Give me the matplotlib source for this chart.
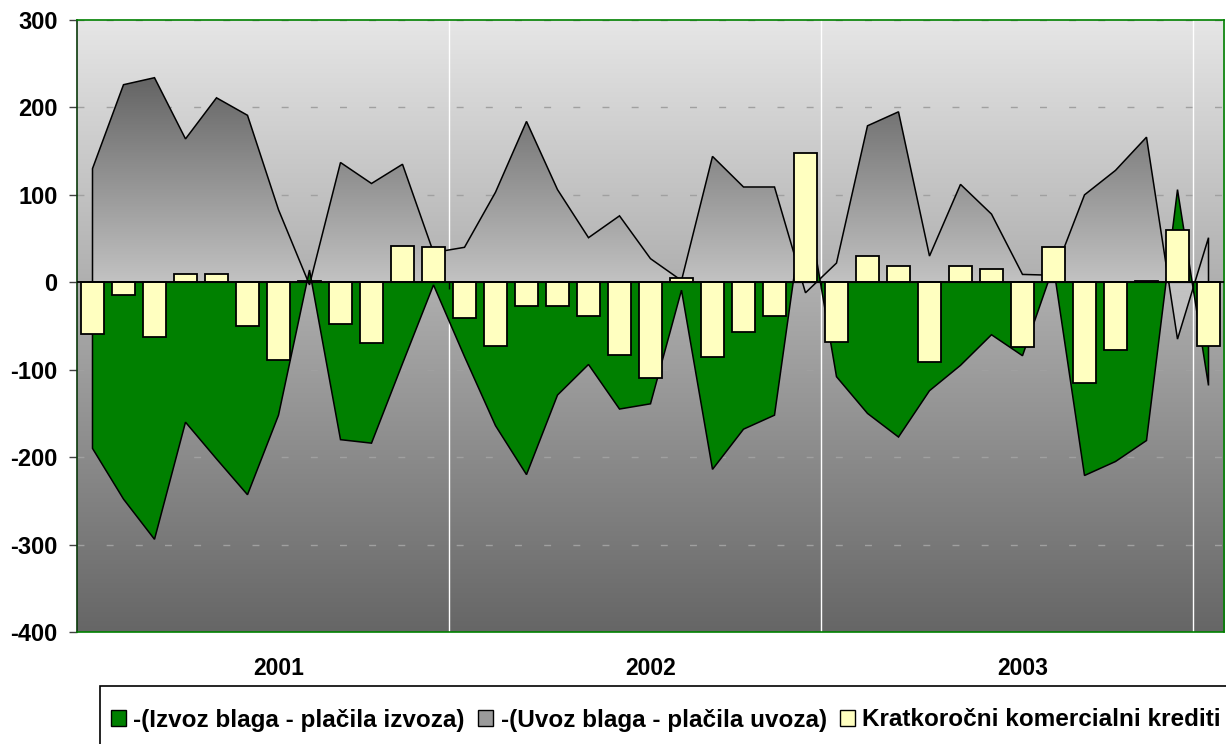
import numpy as np
import matplotlib
matplotlib.use('Agg')
import matplotlib.pyplot as plt
from matplotlib.colors import LinearSegmentedColormap
from matplotlib.patches import Polygon, Patch, Rectangle
from matplotlib.transforms import blended_transform_factory

# Data (monthly, Jan 2001 - Jan 2004)
izvoz = [-190, -248, -294, -160, -202, -243, -152, 14, -180, -184, -93, -3,
         -85, -164, -220, -129, -94, -145, -139, -9, -214, -168, -152, 100,
         -108, -150, -177, -124, -95, -60, -84, 18, -221, -205, -181, 106,
         -118]
uvoz = [130, 226, 234, 164, 211, 191, 83, -3, 137, 113, 135, 34,
        40, 103, 184, 106, 51, 76, 27, 2, 144, 109, 109, -12,
        22, 179, 195, 30, 112, 78, 9, 8, 100, 128, 166, -65,
        51]
krediti = [-59, -14, -63, 10, 10, -50, -89, 2, -48, -70, 42, 40,
           -41, -73, -27, -27, -38, -83, -110, 5, -85, -57, -39, 148,
           -68, 30, 19, -91, 19, 15, -74, 40, -115, -78, 1, 60,
           -73]
years = ['2001', '2002', '2003']
year_pos = [6, 18, 30]
year_bounds = [11.5, 23.5, 35.5]
labels = ['-(Izvoz blaga - plačila izvoza)', '-(Uvoz blaga - plačila uvoza)',
          'Kratkoročni komercialni krediti']

plt.rcParams['font.family'] = ['Liberation Sans', 'DejaVu Sans']
plt.rcParams['font.weight'] = 'bold'
plt.rcParams['axes.unicode_minus'] = False

x = np.arange(len(izvoz))
ymin, ymax = -400, 300

fig = plt.figure(figsize=(12.26, 7.44), dpi=100)
ax = fig.add_axes([77 / 1226, 112 / 744, 1147 / 1226, 612 / 744])
ax.set_xlim(-0.5, len(x) - 0.5)
ax.set_ylim(ymin, ymax)

# Background gradient
bg = LinearSegmentedColormap.from_list('bg', ['#666666', '#e6e6e6'])
ax.imshow(np.linspace(0, 1, 256).reshape(-1, 1), extent=(-0.5, len(x) - 0.5, ymin, ymax),
          origin='lower', aspect='auto', cmap=bg, zorder=0)

# Grid
ax.set_yticks(np.arange(-400, 301, 100))
ax.yaxis.grid(True, linestyle=(0, (5, 16)), color='#a0a0a0', linewidth=1)
ax.set_axisbelow(True)
for b in year_bounds:
    ax.axvline(b, color='white', linewidth=1, zorder=0.6)

# Uvoz area with gradient fill
uv_pts = [(x[0], 0)] + list(zip(x, uvoz)) + [(x[-1], 0)]
uv_poly = Polygon(uv_pts, closed=True, facecolor='none', edgecolor='none')
ax.add_patch(uv_poly)
gy = np.linspace(min(uvoz), max(uvoz), 300)
gt = np.clip(gy / max(uvoz), 0, 1)
gcm = LinearSegmentedColormap.from_list('ar', ['#c2c2c2', '#646464'])
im = ax.imshow(gt.reshape(-1, 1), extent=(-0.5, len(x) - 0.5, min(uvoz), max(uvoz)),
               origin='lower', aspect='auto', cmap=gcm, vmin=0, vmax=1, zorder=1)
im.set_clip_path(uv_poly)
ax.add_patch(Polygon(uv_pts, closed=True, fill=False, edgecolor='black', linewidth=1.1, zorder=1.1))

# Izvoz area
iz_pts = [(x[0], 0)] + list(zip(x, izvoz)) + [(x[-1], 0)]
ax.add_patch(Polygon(iz_pts, closed=True, facecolor='#008000', edgecolor='black',
                     linewidth=1.1, zorder=2))

# Krediti bars
ax.bar(x, krediti, width=0.77, color='#ffffc0', edgecolor='black', linewidth=1.3, zorder=3)

# Zero line and year ticks
ax.axhline(0, color='black', linewidth=1.3, zorder=4)
ax.vlines(year_bounds, -8, 0, color='black', linewidth=1, zorder=4)

# Axes styling
for s in ['top', 'right', 'bottom']:
    ax.spines[s].set_color('#008000')
    ax.spines[s].set_linewidth(1.2)
ax.spines['left'].set_color('#0a3a0a')
ax.spines['left'].set_linewidth(1.2)
ax.set_xticks([])
ax.tick_params(axis='y', direction='out', length=6, width=1, color='#404040',
               pad=8, labelsize=17)
for t in ax.get_yticklabels():
    t.set_fontweight('bold')

trans = blended_transform_factory(ax.transData, ax.transAxes)
for p, yr in zip(year_pos, years):
    ax.annotate(yr, xy=(p, 0), xycoords=trans, xytext=(0, -26), textcoords='offset points',
                ha='center', va='center', fontsize=16.5, fontweight='bold')

# Legend
handles = [Patch(facecolor='#008000', edgecolor='black'),
           Patch(facecolor='#9a9a9a', edgecolor='black'),
           Patch(facecolor='#ffffc0', edgecolor='black')]
fig.legend(handles, labels, ncol=3, loc='center left', bbox_to_anchor=(111 / 1226, 24 / 744),
           frameon=False, prop={'size': 17.5, 'weight': 'bold'}, handlelength=0.62,
           handleheight=0.62, handletextpad=0.3, columnspacing=0.55, borderaxespad=0,
           borderpad=0)
fig.add_artist(Rectangle((100 / 1226, -0.1), 1.2, (744 - 686) / 744 + 0.1,
                         transform=fig.transFigure, fill=False, edgecolor='black',
                         linewidth=1.2))

fig.savefig('out.png', dpi=100)
